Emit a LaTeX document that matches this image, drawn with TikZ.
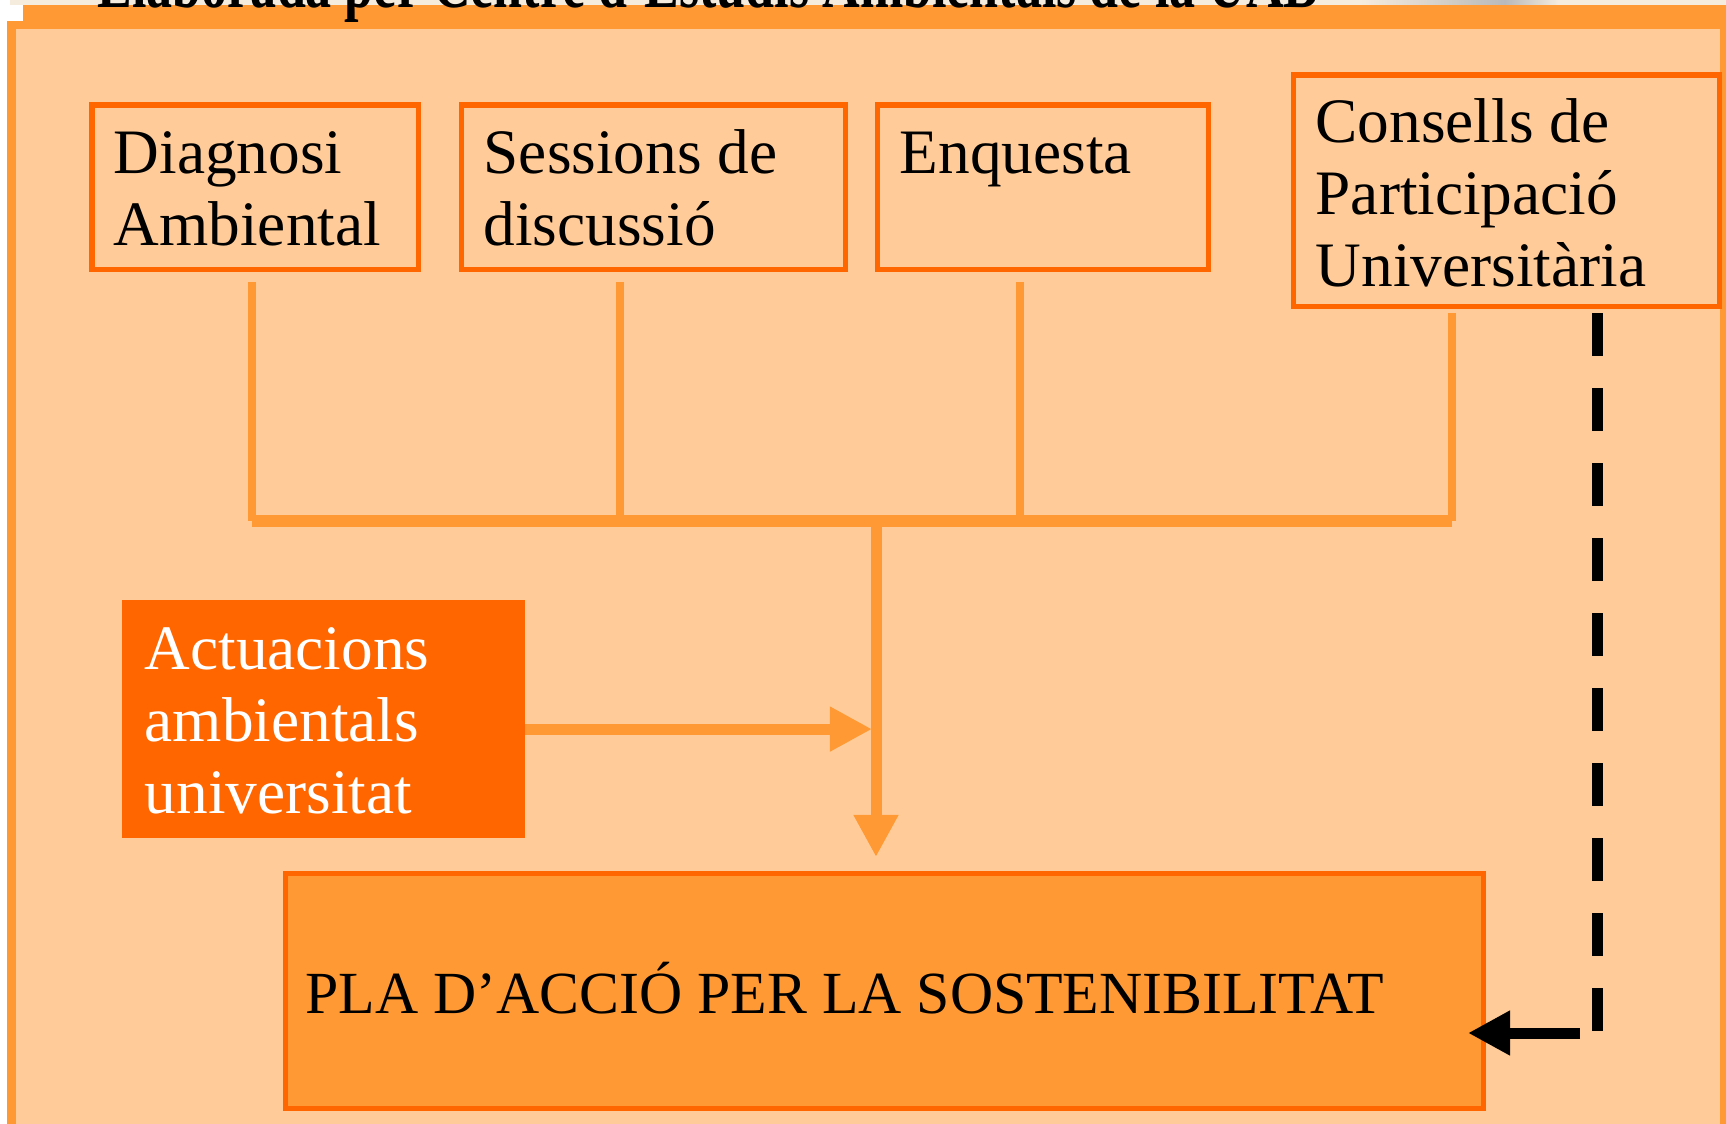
\documentclass[tikz,border=0pt]{standalone}
\usepackage{fontspec}
\setmainfont{Liberation Serif}
\usepackage{graphicx}
\usetikzlibrary{arrows.meta}
\definecolor{pale}{HTML}{FFCC99}
\definecolor{mid}{HTML}{FF9933}
\definecolor{deep}{HTML}{FF6600}
\definecolor{cream}{HTML}{F6ECDE}
\newcommand{\boxtext}[1]{\begin{tabular}[t]{@{}l@{}}#1\end{tabular}}
\tikzset{
  box/.style={draw=deep, line width=0.05cm, fill=pale, anchor=north west, inner sep=0, outer sep=0},
  txt/.style={anchor=base west, inner sep=0, font=\fontsize{18}{20.5}\selectfont},
  drop/.style={draw=mid, line width=0.08cm},
  feed/.style={draw=mid, line width=0.11cm},
  into/.style={feed, -{Triangle[width=0.42cm,length=0.42cm]}},
  back/.style={draw=black, line width=0.11cm},
}

\begin{document}
\begin{tikzpicture}[x=0.01cm,y=-0.01cm]
\useasboundingbox (0,0) rectangle (1726,1124);

\fill[cream] (10,0) rectangle (1726,5);
\shade[left color=cream, right color=gray!55] (1360,0) rectangle (1505,5);
\shade[left color=gray!55, right color=cream] (1505,0) rectangle (1560,5);
\fill[mid] (7,21) rectangle (1726,1124);
\fill[mid] (23,5) rectangle (1726,29);
\fill[pale] (16,29) rectangle (1720,1124);
\node[anchor=base west, inner sep=0, font=\bfseries\fontsize{20}{24}\selectfont](credit) at (97,8)
  {\scalebox{0.74}[1]{Elaborada per Centre d'Estudis Ambientals de la UAB}};

\node[box, minimum width=3.26cm, minimum height=1.64cm](diag) at (92,105){};
\node[box, minimum width=3.84cm, minimum height=1.64cm](sess) at (461,105){};
\node[box, minimum width=3.31cm, minimum height=1.64cm](enq) at (877,105){};
\node[box, minimum width=4.26cm, minimum height=2.31cm](cons) at (1293,75){};
\node[box, draw=none, fill=deep, minimum width=4.03cm, minimum height=2.38cm](act) at (122,600){};
\node[box, fill=mid, minimum width=11.98cm, minimum height=2.35cm](pla) at (285,873){};

\node[txt](diagtxt) at (113,173){\boxtext{Diagnosi\\Ambiental}};
\node[txt](sesstxt) at (483,173){\boxtext{Sessions de\\discussió}};
\node[txt](enqtxt) at (899,173){\boxtext{Enquesta}};
\node[txt](constxt) at (1315,142){\boxtext{Consells de\\Participació\\Universitària}};
\node[txt, text=white](acttxt) at (144,669){\boxtext{Actuacions\\ambientals\\universitat}};
\node[txt, font=\fontsize{17}{20}\selectfont](platxt) at (305,1013){PLA D’ACCIÓ PER LA SOSTENIBILITAT};

\coordinate(dfoot) at (252,282);
\coordinate(sfoot) at (620,282);
\coordinate(efoot) at (1020,282);
\coordinate(cfoot) at (1452,313);
\coordinate(hub) at (876,521);
\coordinate(ctop) at (1597,313);
\coordinate(cbot) at (1597,1033);
\coordinate(cturn) at (1580,1033);
\coordinate(ptip) at (1468,1033);

\draw[drop](dfoot)--(dfoot|-hub);
\draw[drop](sfoot)--(sfoot|-hub);
\draw[drop](efoot)--(efoot|-hub);
\draw[drop](cfoot)--(cfoot|-hub);
\draw[feed](dfoot|-hub)--(cfoot|-hub);
\draw[into, shorten >=0.16cm](hub)--(hub|-pla.north);
\draw[into, shorten >=0.04cm]([yshift=-0.1cm]act.east)--([yshift=-0.1cm]act.east-|hub);
\draw[back, dash pattern=on 0.43cm off 0.32cm](ctop)--(cbot);
\draw[back, -{Triangle[width=0.42cm,length=0.42cm]}](cturn)--(ptip);

\end{tikzpicture}
\end{document}
